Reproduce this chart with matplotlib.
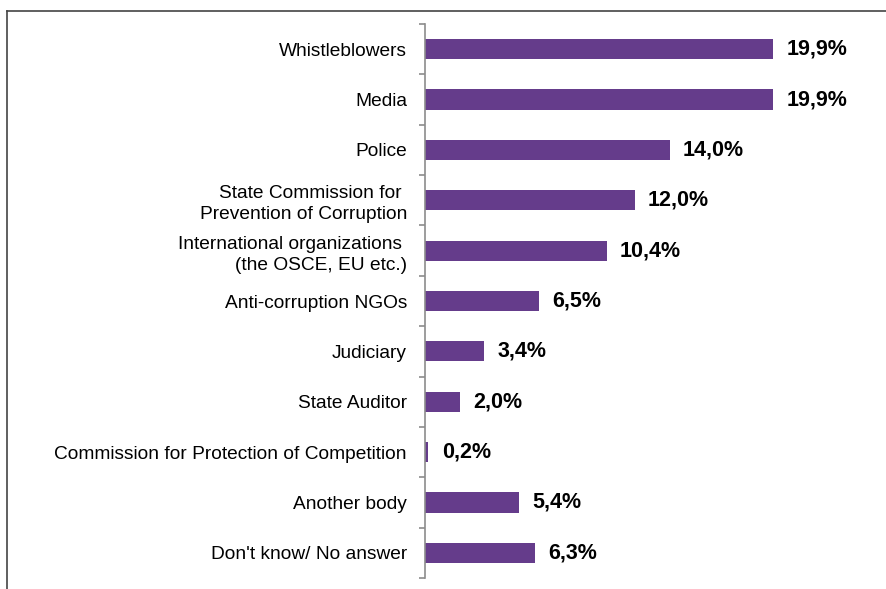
import matplotlib.pyplot as plt
from matplotlib.lines import Line2D
import numpy as np

plt.rcParams['font.family'] = ['Liberation Sans', 'DejaVu Sans']

# who people would report corruption to (% of respondents)
categories = ['Whistleblowers', 'Media', 'Police',
              'State Commission for \nPrevention of Corruption',
              'International organizations \n(the OSCE, EU etc.)',
              'Anti-corruption NGOs', 'Judiciary', 'State Auditor',
              'Commission for Protection of Competition',
              'Another body', "Don't know/ No answer"]
values = [19.9, 19.9, 14.0, 12.0, 10.4, 6.5, 3.4, 2.0, 0.2, 5.4, 6.3]
value_labels = ['19,9%', '19,9%', '14,0%', '12,0%', '10,4%', '6,5%',
                '3,4%', '2,0%', '0,2%', '5,4%', '6,3%']

bar_color = '#653c8b'
axis_color = '#8c8c8c'

fig = plt.figure(figsize=(8.87, 5.89), dpi=100)
ax = fig.add_axes([425 / 887, 11 / 589, 455 / 887, 554 / 589])

y = np.arange(len(categories))
ax.barh(y, values, height=0.4, color=bar_color)

for yi, v, lab in zip(y, values, value_labels):
    ax.annotate(lab, (v, yi), xytext=(9.5, 0), textcoords='offset points',
                ha='left', va='center', fontsize=15.5, fontweight='bold',
                color='black')

ax.set_xlim(0, 455 / 17.49)
ax.set_ylim(len(categories) - 0.5, -0.5)

# labels sit on the major ticks, the tick marks go between categories
ax.set_yticks(y)
ax.set_yticklabels(categories, fontsize=13.8, linespacing=1.3)
ax.set_yticks(np.arange(len(categories) + 1) - 0.5, minor=True)
ax.tick_params(axis='y', which='major', length=0, pad=13)
ax.tick_params(axis='y', which='minor', length=4, width=1.2, color=axis_color)
ax.set_xticks([])

for side in ['top', 'right', 'bottom']:
    ax.spines[side].set_visible(False)
ax.spines['left'].set_color(axis_color)
ax.spines['left'].set_linewidth(1.2)

# chart border (top and left edges)
fig.add_artist(Line2D([7.5 / 887, 1], [1 - 10.5 / 589, 1 - 10.5 / 589],
                      transform=fig.transFigure, color='#444444', lw=1.2))
fig.add_artist(Line2D([7.5 / 887, 7.5 / 887], [0, 1 - 10.5 / 589],
                      transform=fig.transFigure, color='#444444', lw=1.2))

fig.savefig('out.png', dpi=100)
